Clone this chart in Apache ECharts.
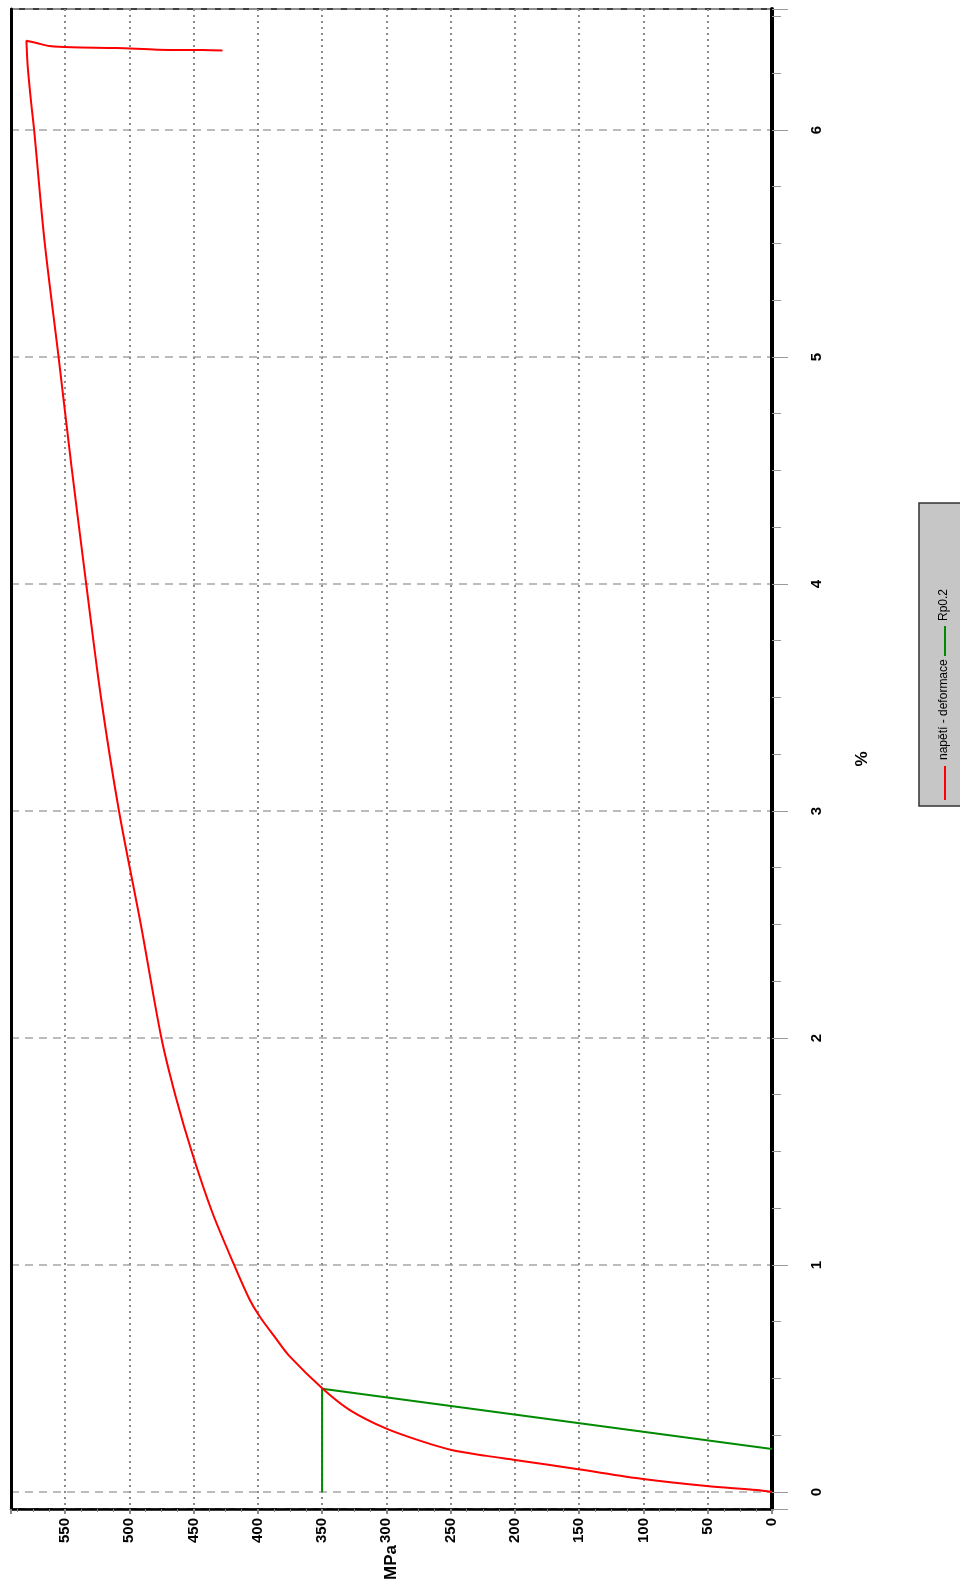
<!DOCTYPE html>
<html>
<head>
<meta charset="utf-8">
<script src="https://cdn.jsdelivr.net/npm/echarts@6/dist/echarts.min.js"></script>
<style>
html,body{margin:0;padding:0;background:#fff;}
#chart{width:960px;height:1580px;}
</style>
</head>
<body>
<div id="chart"></div>
<script>
// ---- data (stress in MPa, strain in %) ----
const seriesNames = ['napětí - deformace', 'Rp0.2'];
const stress = [0, 11.9, 50.8, 100.2, 150.7, 200, 222, 249.3, 274, 300.4, 328.4, 349.5, 375, 386, 398.4, 406.2, 418.4, 435.3, 450.9, 463.8, 475, 491, 508, 522, 533.5, 545, 555, 566, 574, 576.5, 579, 580, 572, 562, 545, 510, 478, 443, 427.5];
const strain = [0, 0.009, 0.026, 0.057, 0.100, 0.141, 0.159, 0.185, 0.226, 0.280, 0.361, 0.455, 0.596, 0.677, 0.772, 0.846, 1.00, 1.23, 1.49, 1.74, 2.00, 2.50, 3.00, 3.50, 4.00, 4.52, 5.00, 5.515, 6.00, 6.13, 6.28, 6.393, 6.383, 6.370, 6.364, 6.361, 6.354, 6.352, 6.350];
const rpStress = [350, 350, 0];
const rpStrain = [0, 0.455, 0.189];
const axisNames = {stress: 'MPa', strain: '%'};

const FONT = "'Liberation Sans Narrow', 'Arial Narrow', 'Liberation Sans', Arial, sans-serif";

const chart = echarts.init(document.getElementById('chart'), null, {renderer: 'canvas'});

const curve = stress.map((s, i) => [s, strain[i]]);
const rpLine = rpStress.map((s, i) => [s, rpStrain[i]]);

const option = {
  animation: false,
  backgroundColor: '#ffffff',
  grid: {
    left: 11, right: 188, top: 9, bottom: 71,
    show: true, borderColor: '#000', borderWidth: 1.5, backgroundColor: 'transparent',
    containLabel: false, outerBoundsMode: 'none'
  },
  xAxis: {
    type: 'value', inverse: true, position: 'bottom',
    min: 0, max: 592, interval: 50,
    axisLine: {show: true, onZero: false, lineStyle: {color: '#000', width: 2.5}},
    axisTick: {show: true, length: 5, lineStyle: {color: '#888', width: 2}},
    minorTick: {show: true, splitNumber: 4, length: 3, lineStyle: {color: '#888', width: 1}},
    splitLine: {show: true, lineStyle: {color: '#8c8c8c', width: 2, type: [2, 4]}},
    axisLabel: {rotate: 90, margin: 9, showMaxLabel: false, color: '#000', fontSize: 15, fontWeight: 'bold', fontFamily: FONT},
    name: axisNames.stress, nameLocation: 'middle', nameRotate: 90, nameGap: 36, nameMoveOverlap: false,
    nameTextStyle: {color: '#000', fontSize: 17, fontWeight: 'bold', fontFamily: FONT}
  },
  yAxis: [{
    type: 'value', position: 'right',
    min: -0.075, max: 6.533, splitNumber: 7,
    axisLine: {show: true, onZero: false, lineStyle: {color: '#000', width: 4}},
    axisTick: {show: true, length: 16, lineStyle: {color: '#999', width: 1}},
    minorTick: {show: true, splitNumber: 4, length: 9, lineStyle: {color: '#999', width: 1}},
    splitLine: {show: true, lineStyle: {color: '#a6a6a6', width: 1.5, type: [8, 6]}},
    axisLabel: {rotate: 90, margin: 37, showMinLabel: false, showMaxLabel: false, color: '#000', fontSize: 15, fontWeight: 'bold', fontFamily: FONT},
    name: axisNames.strain, nameLocation: 'middle', nameRotate: 90, nameGap: 82, nameMoveOverlap: false,
    nameTextStyle: {color: '#000', fontSize: 17, fontWeight: 'bold', fontFamily: FONT}
  }, {
    type: 'value', position: 'left',
    min: -0.075, max: 6.533, splitNumber: 7,
    axisLine: {show: true, onZero: false, lineStyle: {color: '#000', width: 3}},
    axisTick: {show: false}, axisLabel: {show: false}, splitLine: {show: false}
  }],
  series: [{
    name: seriesNames[1], type: 'line', data: rpLine, showSymbol: false, symbol: 'none',
    lineStyle: {color: '#008a00', width: 2}, z: 3
  }, {
    name: seriesNames[0], type: 'line', data: curve, showSymbol: false, symbol: 'none',
    smooth: 0.3,
    lineStyle: {color: '#ff0000', width: 2}, z: 4
  }],
  graphic: [
    {type: 'rect', shape: {x: 919, y: 503, width: 45, height: 303}, style: {fill: '#c6c6c6', stroke: '#333', lineWidth: 1.5}, z: 10},
    {type: 'line', shape: {x1: 945, y1: 766, x2: 945, y2: 800}, style: {stroke: '#ff0000', lineWidth: 2}, z: 11},
    {type: 'text', x: 944, y: 760, rotation: Math.PI / 2, style: {text: seriesNames[0], fill: '#000', fontSize: 12, fontFamily: FONT, align: 'left', verticalAlign: 'middle'}, z: 11},
    {type: 'line', shape: {x1: 945, y1: 626, x2: 945, y2: 656}, style: {stroke: '#008a00', lineWidth: 2}, z: 11},
    {type: 'text', x: 944, y: 621, rotation: Math.PI / 2, style: {text: seriesNames[1], fill: '#000', fontSize: 12, fontFamily: FONT, align: 'left', verticalAlign: 'middle'}, z: 11}
  ]
};
chart.setOption(option);
</script>
</body>
</html>
